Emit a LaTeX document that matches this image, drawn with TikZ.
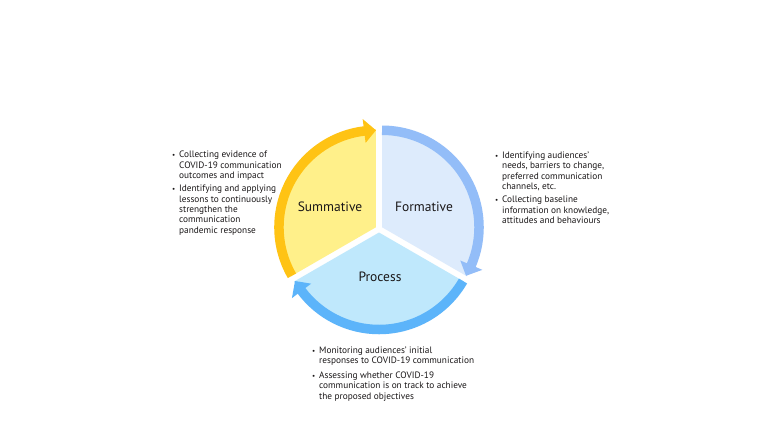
\documentclass[tikz,border=0pt]{standalone}
\usepackage{fontspec}
\setmainfont{PT Sans}
\usetikzlibrary{calc}
\definecolor{sumfill}{HTML}{FFF08A}
\definecolor{sumband}{HTML}{FFC314}
\definecolor{formfill}{HTML}{DDEBFC}
\definecolor{formband}{HTML}{93BDF8}
\definecolor{procfill}{HTML}{BFE8FC}
\definecolor{procband}{HTML}{5CB4FA}
\definecolor{txt}{HTML}{1A1718}
\tikzset{
  bul/.style={anchor=base west, inner sep=0pt,
    font=\fontsize{9.3}{10.35}\selectfont, text=txt},
  lab/.style={anchor=base, inner sep=0pt, font=\fontsize{13.5}{16}\selectfont, text=txt},
  band/.style={line width=9.5, line cap=butt}
}
\newcommand{\bitem}[1]{\makebox[7pt][l]{\raisebox{0.3pt}{\scriptsize\textbullet}}\begin{tabular}[t]{@{}l@{}}#1\end{tabular}}
\begin{document}
\begin{tikzpicture}[x=1pt,y=1pt]
\useasboundingbox (0,0) rectangle (768,-432);
\fill[white] (0,0) rectangle (768,-432);
\coordinate (O) at (379,-229);
\coordinate (Cs) at ($(O)+(150:3.5)$);
\coordinate (Cf) at ($(O)+(30:3.5)$);
\coordinate (Cp) at ($(O)+(270:3.5)$);
% Summative
\begin{scope}[shift={(Cs)}]
  \fill[sumfill] (0,0) -- (90:98) arc[start angle=90,end angle=210,radius=98] -- cycle;
  \draw[band, sumband] (210:97) arc[start angle=210,end angle=96.5,radius=97];
  \fill[sumband] (97:85) -- (97:109) -- (90:97) -- cycle;
\end{scope}
% Formative
\begin{scope}[shift={(Cf)}]
  \fill[formfill] (0,0) -- (-30:98) arc[start angle=-30,end angle=90,radius=98] -- cycle;
  \draw[band, formband] (90:97) arc[start angle=90,end angle=-23.5,radius=97];
  \fill[formband] (-23:85) -- (-23:109) -- (-30:97) -- cycle;
\end{scope}
% Process
\begin{scope}[shift={(Cp)}]
  \fill[procfill] (0,0) -- (210:98) arc[start angle=210,end angle=330,radius=98] -- cycle;
  \draw[band, procband] (-30:97) arc[start angle=-30,end angle=-143.5,radius=97];
  \fill[procband] (-143:85) -- (-143:109) -- (-150:97) -- cycle;
\end{scope}
\node[lab] (sum) at (330,-211.7) {Summative};
\node[lab] (form) at (424,-211.7) {Formative};
\node[lab] (proc) at (380,-281.7) {Process};
% left text
\node[bul] (l1) at (172,-157.7) {\bitem{Collecting evidence of\\COVID-19 communication\\outcomes and impact}};
\node[bul] (l2) at (172,-191.7) {\bitem{Identifying and applying\\lessons to continuously\\strengthen the\\communication\\pandemic response}};
% right text
\node[bul] (r1) at (495,-158.3) {\bitem{Identifying audiences’\\needs, barriers to change,\\preferred communication\\channels, etc.}};
\node[bul] (r2) at (495,-202.7) {\bitem{Collecting baseline\\information on knowledge,\\attitudes and behaviours}};
% bottom text
\node[bul] (b1) at (312,-353.3) {\bitem{Monitoring audiences’ initial\\responses to COVID-19 communication}};
\node[bul] (b2) at (312,-378.3) {\bitem{Assessing whether COVID-19\\communication is on track to achieve\\the proposed objectives}};
\end{tikzpicture}
\end{document}
